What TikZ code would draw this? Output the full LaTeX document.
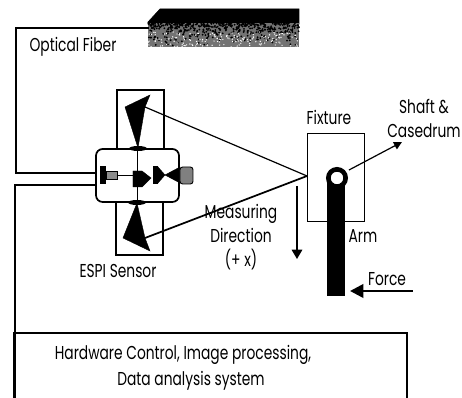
\documentclass[tikz,border=0pt]{standalone}
\usepackage{fontspec}
\setmainfont[FakeStretch=0.74]{Poppins}
\usetikzlibrary{positioning, arrows.meta, calc}

\begin{document}
\begin{tikzpicture}
  [x=0.75pt,y=-0.75pt,
   basicbox/.style={draw,rectangle,inner sep=0pt,line width=1pt},
   solidpart/.style={fill=black,draw=black,line width=0.3pt},
   fiberline/.style={line width=1.6pt},
   thinline/.style={line width=0.9pt},
   labeltext/.style={inner sep=0pt,font=\fontsize{14pt}{18pt}\selectfont,align=center}]
  \useasboundingbox (0,0) rectangle (462,398);
  \draw [fill=black] (148,22) -- (160,9) -- (299,9) -- (299,24) -- (148,24) -- cycle;
  \fill [black!55] (148,23) rectangle (299,47);
  \pgfmathsetseed{11}
  \foreach \i in {1,...,520} {
    \fill [black] ({148+151*rnd},{23+24*rnd*rnd}) circle (1);
  }
  \foreach \i in {1,...,170} {
    \fill [white] ({148+151*rnd},{32+15*rnd}) circle (0.7);
  }
  \coordinate (laserport) at (149,28);
  \coordinate (fibercorner) at (16,28);
  \coordinate (fibercorner2) at (16,173);
  \coordinate (signalcorner) at (15,185);
  \coordinate (signalend) at (15,398);
  \node (sensorbox) at (137.5,175.5) [basicbox,line width=1.3pt,rounded corners=5pt,minimum width=62.25pt,minimum height=39.75pt] {};
  \node (uppermount) at (140.5,119.5) [basicbox,line width=1.3pt,minimum width=35.25pt,minimum height=44.25pt] {};
  \node (lowermount) at (139.5,228.5) [basicbox,line width=1.3pt,minimum width=35.25pt,minimum height=39.75pt] {};
  \draw [fiberline] (laserport) -- (fibercorner) -- (fibercorner2) -- (fibercorner2 -| sensorbox.west);
  \draw [fiberline] (signalend) -- (signalcorner) -- (signalcorner -| sensorbox.west);
  \coordinate (controlleft) at (14,333);
  \coordinate (controlright) at (407,333);
  \coordinate (controlleftend) at (14,398);
  \coordinate (controlrightend) at (407,398);
  \draw [line width=1.3pt] (controlleftend) -- (controlleft) -- (controlright) -- (controlrightend);
  % mirrors
  \draw [solidpart] (138,148) -- (125,107) -- (150,95) -- (145,107) -- cycle;
  \draw [solidpart] (137,203) -- (123,238) -- (150,251) -- (145,238) -- cycle;
  \fill (138,148.5) ellipse (9 and 2.5);
  \fill (137,202.5) ellipse (9 and 2.5);
  \coordinate (uppermirror) at (145,107);
  \coordinate (lowermirror) at (145,238);
  \coordinate (targetpoint) at (307,176);
  \draw [thinline] (uppermirror) -- (targetpoint);
  \draw [line width=1.3pt] (lowermirror) -- (targetpoint);
  % optics inside the sensor
  \draw [line width=0.7pt] (137.5,148) -- (137.5,203);
  \fill [black] (100,166) rectangle (106,184);
  \fill [black!45,draw=black,line width=0.5pt] (106,171) rectangle (117,179);
  \coordinate (detectorout) at (117,175);
  \coordinate (splitterin) at (133,175);
  \draw [line width=0.7pt] (detectorout) -- (splitterin);
  \draw [solidpart] (133,171) -- (142,171) -- (151,178) -- (142,187) -- (133,187) -- cycle;
  \fill [black] (153,166) rectangle (158,184);
  \draw [solidpart] (158,167) -- (165,175) -- (158,183) -- cycle;
  \draw [solidpart] (180,167) -- (165,175) -- (180,183) -- cycle;
  \fill [black!50,draw=black,line width=0.7pt,rounded corners=2pt] (180,167) rectangle (193,184);
  % fixture and arm
  \node (fixturebox) at (335.5,177) [basicbox,line width=0.7pt,minimum width=42.75pt,minimum height=66pt] {};
  \fill [black] (327,178) rectangle (345,296);
  \node (shaftring) at (337,178) [circle,draw,line width=3.5pt,fill=white,inner sep=0pt,minimum size=13pt] {};
  \coordinate (shaftstart) at (349,170);
  \coordinate (shaftend) at (402,142);
  \draw [thinline,-{Triangle[length=6pt,width=6pt]}] (shaftstart) -- (shaftend);
  \coordinate (measurestart) at (297,186);
  \coordinate (measureend) at (297,259);
  \draw [thinline,-{Triangle[length=7pt,width=8pt]}] (measurestart) -- (measureend);
  \coordinate (forcestart) at (413,291);
  \coordinate (forceend) at (350,291);
  \draw [line width=2pt,-{Triangle[length=10pt,width=10pt]}] (forcestart) -- (forceend);
  % labels
  \node (fiberlabel) at (73,47) [labeltext] {Optical Fiber};
  \node (fixturelabel) at (329,117) [labeltext] {Fixture};
  \node (shaftlabel) at (424,118) [labeltext] {Shaft \&\\Casedrum};
  \node (directionlabel) at (241,237) [labeltext] {Measuring\\Direction\\(+ x)};
  \node (sensorlabel) at (118,271) [labeltext] {ESPI Sensor};
  \node (armlabel) at (363,236) [labeltext] {Arm};
  \node (forcelabel) at (387,279) [labeltext] {Force};
  \node (hardwarelabel) at (183,355) [labeltext] {Hardware Control, Image processing,};
  \node (datalabel) at (191,381) [labeltext] {Data analysis system};
\end{tikzpicture}
\end{document}
